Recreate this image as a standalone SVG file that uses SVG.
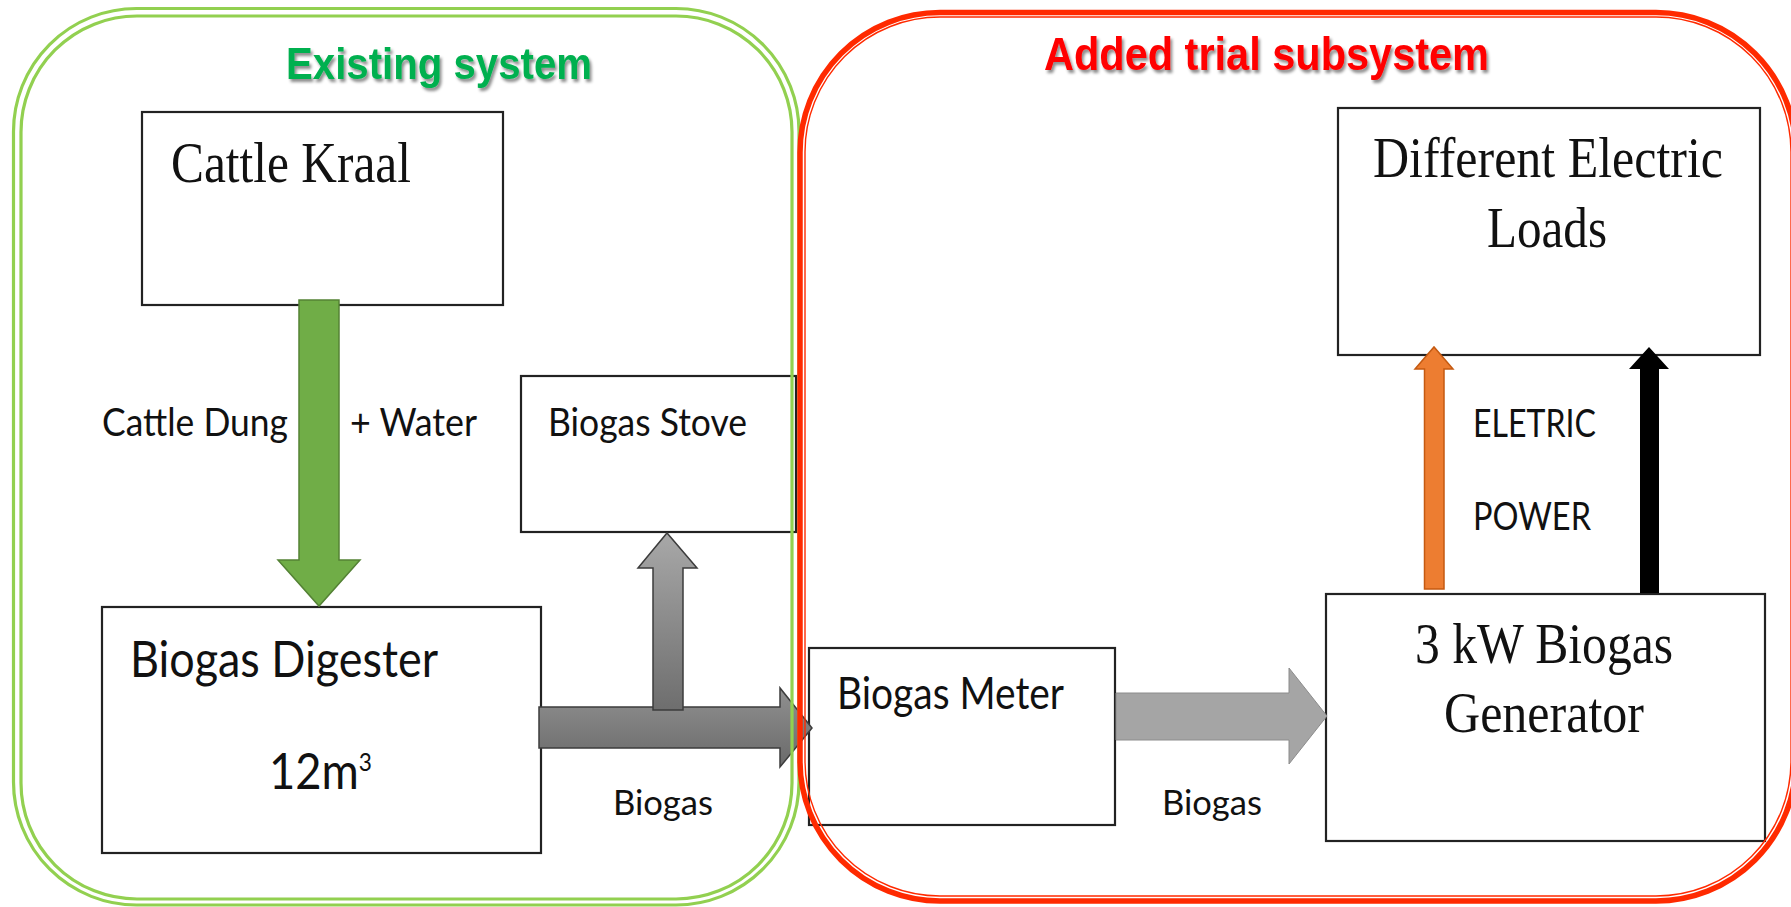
<svg xmlns="http://www.w3.org/2000/svg" width="1791" height="907" viewBox="0 0 1791 907">
  <style>
    .box { fill: #ffffff; stroke: #222222; stroke-width: 2.2; }
    .serif { font-family: "Liberation Serif", "Times New Roman", serif; font-size: 56px; fill: #111111; }
    .sans { font-family: Lato, "Liberation Sans", sans-serif; fill: #111111; }
    .lbl { font-size: 39px; }
    .title { font-family: "Liberation Sans", Arial, sans-serif; font-weight: bold; }
    .frame-green { fill: none; stroke: #92D050; stroke-width: 3.2; }
    .frame-red-outer { fill: none; stroke: #FF2A00; stroke-width: 5.5; }
    .frame-red-inner { fill: none; stroke: #FF2A00; stroke-width: 1.4; }
  </style>
  <defs>
    <filter id="txtShadow" x="-5%" y="-20%" width="115%" height="150%">
      <feDropShadow dx="2" dy="3" stdDeviation="1.4" flood-color="#000000" flood-opacity="0.45"/>
    </filter>
    <linearGradient id="grayH" x1="0" y1="0" x2="0" y2="1">
      <stop offset="0" stop-color="#909090"/>
      <stop offset="1" stop-color="#6a6a6a"/>
    </linearGradient>
    <linearGradient id="grayV" x1="0" y1="0" x2="0" y2="1">
      <stop offset="0" stop-color="#a8a8a8"/>
      <stop offset="1" stop-color="#6e6e6e"/>
    </linearGradient>
  </defs>

  <rect width="1791" height="907" fill="#ffffff"/>

  <!-- process boxes -->
  <g id="cattle-kraal">
    <rect class="box" x="142" y="112" width="361" height="193"/>
    <text class="serif" x="171" y="182" textLength="240" lengthAdjust="spacingAndGlyphs">Cattle Kraal</text>
  </g>
  <g id="biogas-digester">
    <rect class="box" x="102" y="607" width="439" height="246"/>
    <text class="sans" x="130" y="677" font-size="50" textLength="308" lengthAdjust="spacingAndGlyphs">Biogas Digester</text>
    <text class="sans" x="269" y="789" font-size="50" textLength="103" lengthAdjust="spacingAndGlyphs">12m<tspan font-size="25" dy="-18">3</tspan></text>
  </g>
  <g id="biogas-stove">
    <rect class="box" x="521" y="376" width="275" height="156"/>
    <text class="sans lbl" x="548" y="436" textLength="199" lengthAdjust="spacingAndGlyphs">Biogas Stove</text>
  </g>
  <g id="biogas-meter">
    <rect class="box" x="809" y="648" width="306" height="177"/>
    <text class="sans" x="837" y="709" font-size="44" textLength="227" lengthAdjust="spacingAndGlyphs">Biogas Meter</text>
  </g>
  <g id="electric-loads">
    <rect class="box" x="1338" y="108" width="422" height="247"/>
    <text class="serif" x="1373" y="177" textLength="350" lengthAdjust="spacingAndGlyphs">Different Electric</text>
    <text class="serif" x="1487" y="247" textLength="120" lengthAdjust="spacingAndGlyphs">Loads</text>
  </g>
  <g id="biogas-generator">
    <rect class="box" x="1326" y="594" width="439" height="247"/>
    <text class="serif" x="1415" y="663" textLength="258" lengthAdjust="spacingAndGlyphs">3 kW Biogas</text>
    <text class="serif" x="1444" y="732" textLength="200" lengthAdjust="spacingAndGlyphs">Generator</text>
  </g>

  <!-- flow arrows and their labels -->
  <g id="connectors">
    <polygon points="299,300 339,300 339,560 360,560 319,606 278,560 299,560" fill="#70AD47" stroke="#548235" stroke-width="1.5"/>
    <text class="sans lbl" x="102" y="436" textLength="186" lengthAdjust="spacingAndGlyphs">Cattle Dung</text>
    <text class="sans lbl" x="350" y="436" textLength="127" lengthAdjust="spacingAndGlyphs">+ Water</text>

    <polygon points="539,707 780,707 780,688 812,728 780,767 780,748 539,748" fill="url(#grayH)" stroke="#3c3c3c" stroke-width="1.5"/>
    <polygon points="653,710 653,568 638,568 667,533 697,568 683,568 683,710" fill="url(#grayV)" stroke="#3c3c3c" stroke-width="1.5"/>
    <text class="sans" x="613" y="815" font-size="34" textLength="100" lengthAdjust="spacingAndGlyphs">Biogas</text>

    <polygon points="1116,693 1289,693 1289,668 1327,716 1289,764 1289,740 1116,740" fill="#A5A5A5" stroke="#8c8c8c" stroke-width="1"/>
    <text class="sans" x="1162" y="815" font-size="34" textLength="100" lengthAdjust="spacingAndGlyphs">Biogas</text>

    <polygon points="1424.5,589 1424.5,369 1415,369 1434,347 1453,369 1444,369 1444,589" fill="#ED7D31" stroke="#C55A11" stroke-width="1.5"/>
    <polygon points="1640,593 1640,369 1629,369 1649,347 1669,369 1659,369 1659,593" fill="#000000"/>
    <text class="sans lbl" x="1473" y="437" textLength="123" lengthAdjust="spacingAndGlyphs">ELETRIC</text>
    <text class="sans lbl" x="1473" y="530" textLength="118" lengthAdjust="spacingAndGlyphs">POWER</text>
  </g>

  <!-- subsystem frames -->
  <g id="existing-system">
    <rect class="frame-green" x="13.5" y="8.5" width="785.5" height="896.5" rx="123" ry="123"/>
    <rect class="frame-green" x="21" y="16" width="771" height="883" rx="116" ry="116"/>
    <text class="title" x="286" y="79" font-size="45" fill="#00B050" filter="url(#txtShadow)" textLength="306" lengthAdjust="spacingAndGlyphs">Existing system</text>
  </g>
  <g id="trial-subsystem">
    <rect class="frame-red-outer" x="800" y="12.5" width="996" height="888.5" rx="140" ry="140"/>
    <rect class="frame-red-inner" x="805" y="17" width="986" height="879" rx="135" ry="135"/>
    <text class="title" x="1044" y="70" font-size="46" fill="#FF0000" filter="url(#txtShadow)" textLength="445" lengthAdjust="spacingAndGlyphs">Added trial subsystem</text>
  </g>
</svg>
